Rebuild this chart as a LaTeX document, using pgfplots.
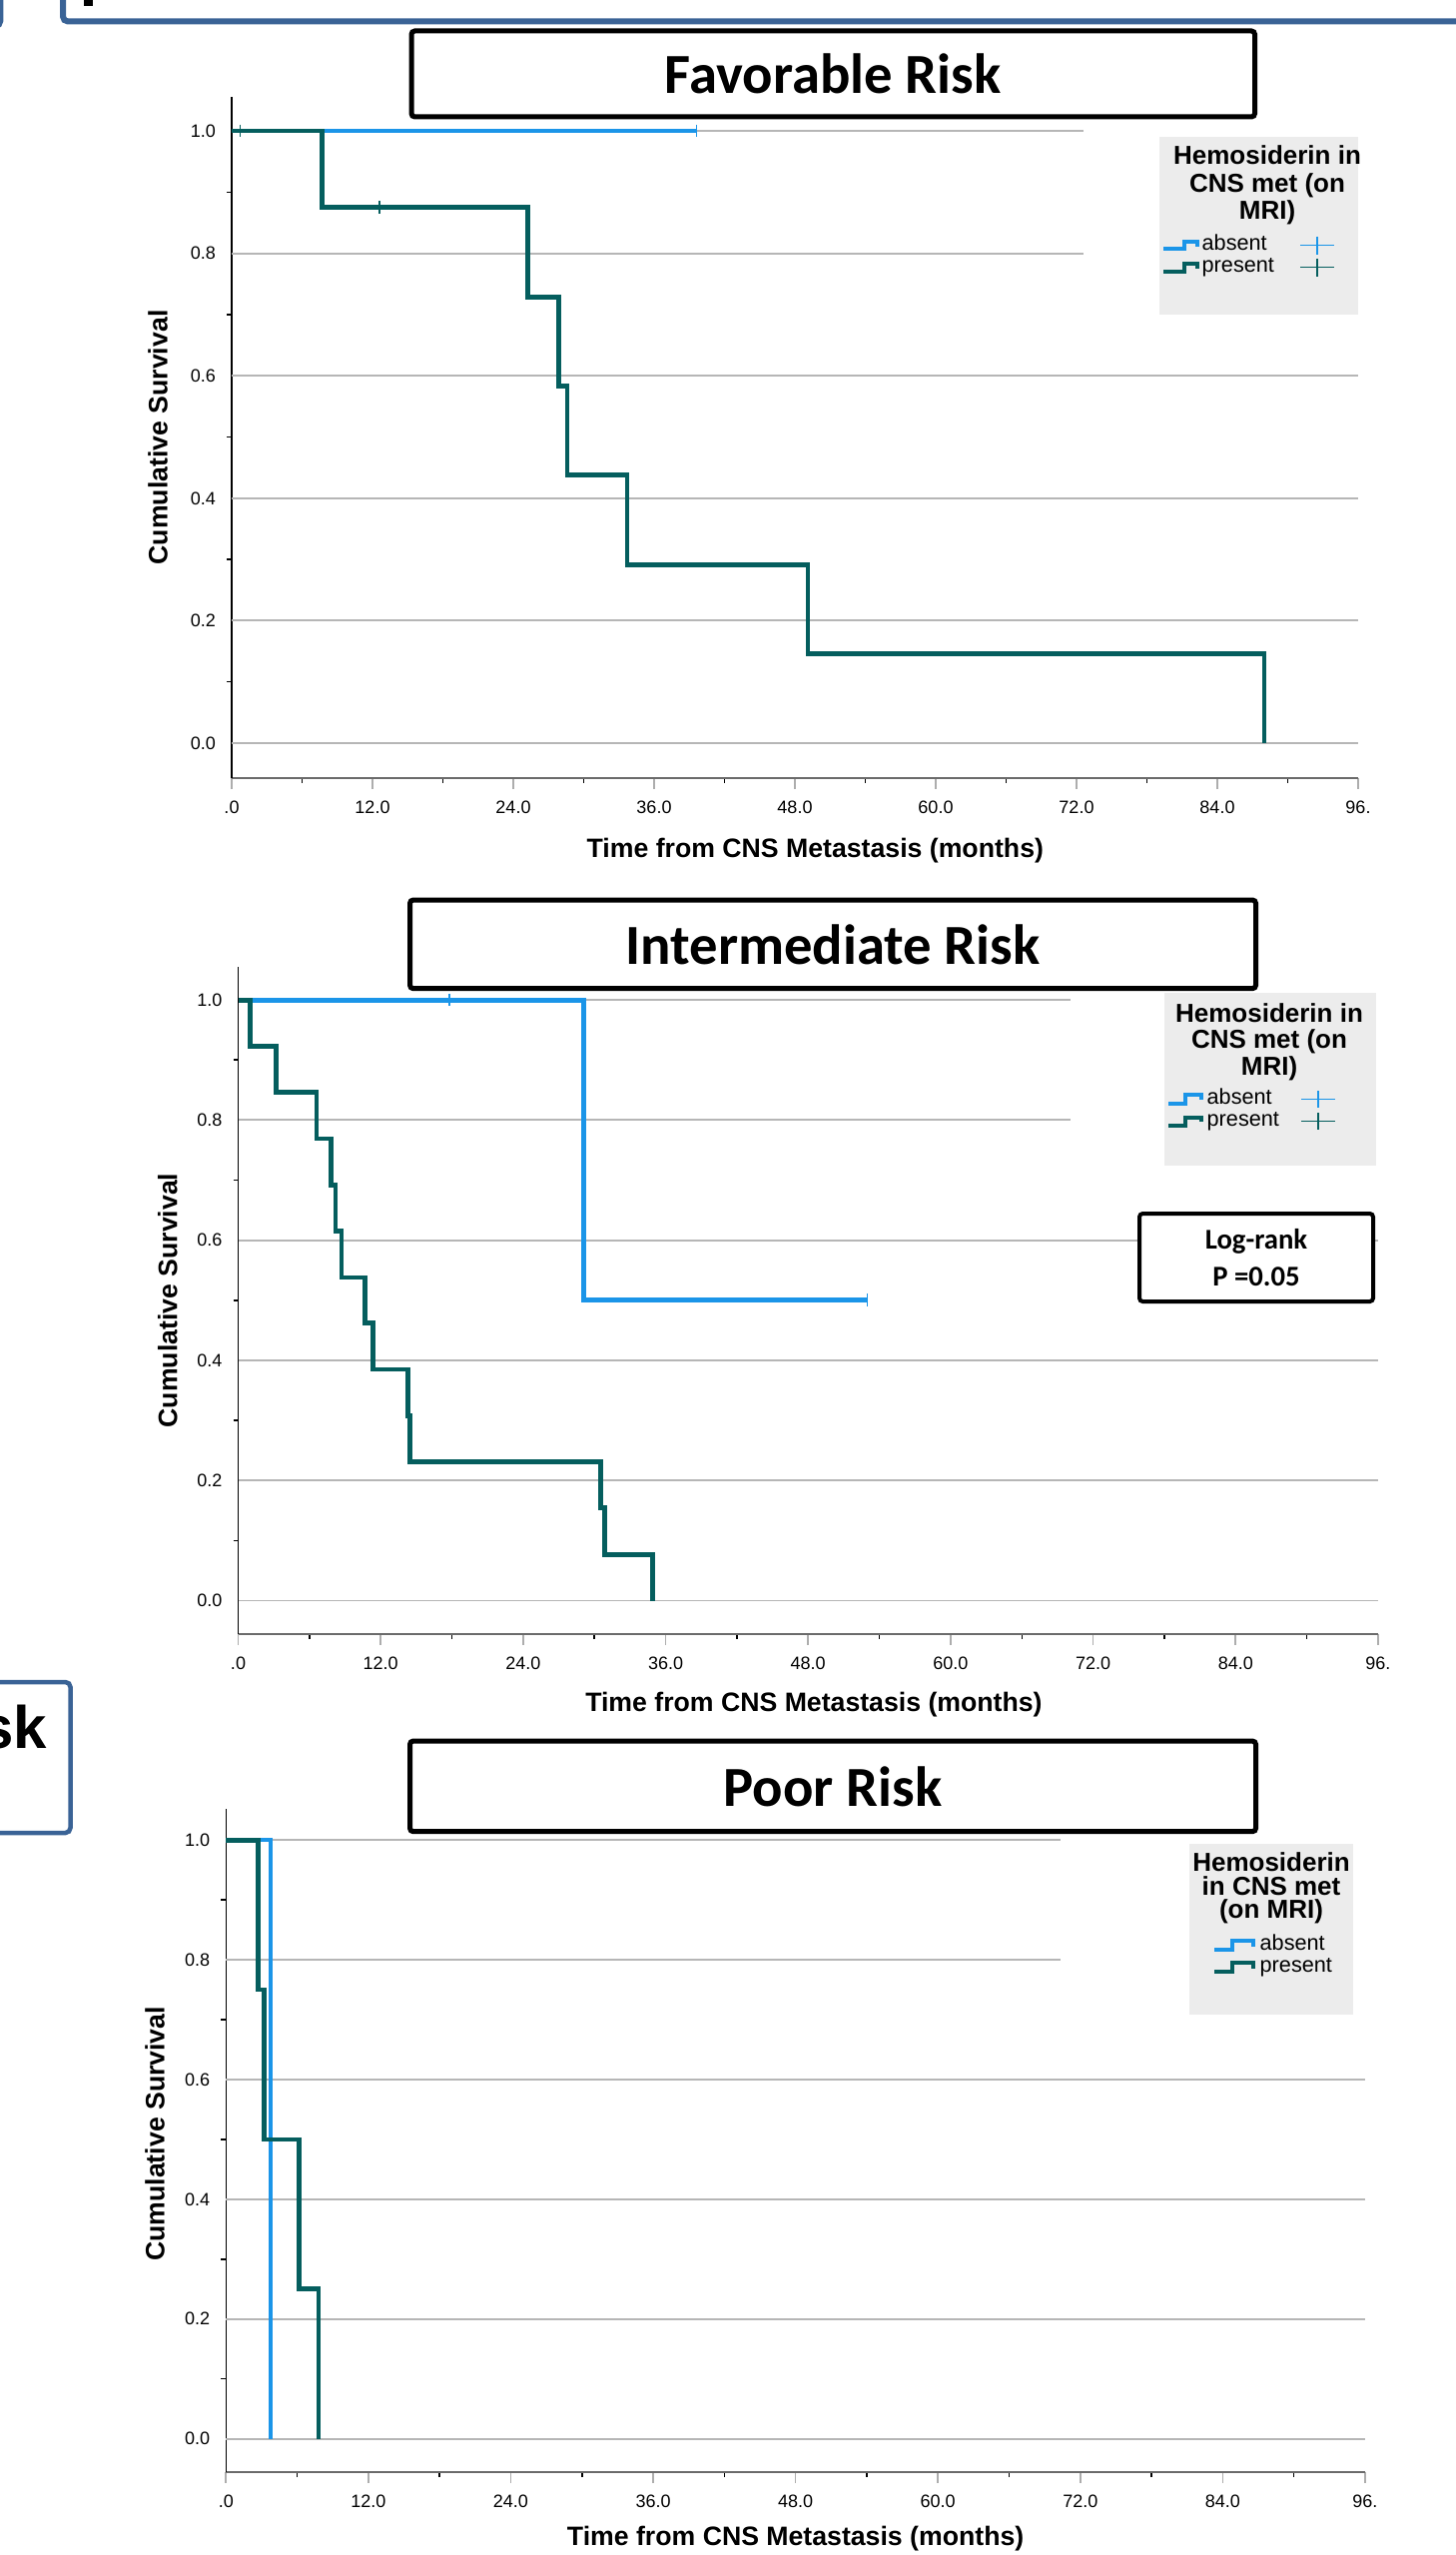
\documentclass[border=0pt]{standalone}
\usepackage{fontspec}
\setmainfont{Liberation Sans}
\newfontfamily\calib{Carlito}
\usepackage{pgfplots}
\pgfplotsset{compat=1.18}

\definecolor{kmblue}{RGB}{27,149,232}
\definecolor{kmteal}{RGB}{5,94,94}
\definecolor{frameblue}{RGB}{58,99,150}
\definecolor{legbg}{RGB}{236,236,236}
\definecolor{gridc}{RGB}{182,182,182}

\tikzset{gl/.style={gridc, line width=0.55pt}}
\pgfplotsset{
 km/.style={
  scale only axis,
  anchor=south west,
  xmin=0, xmax=96,
  axis x line*=bottom, axis y line*=left,
  axis line style={-},
  x axis line style={draw=black!58, line width=0.75pt},
  y axis line style={draw=black, line width=0.45pt},
  xtick={0,12,...,96},
  xticklabels={.0,12.0,24.0,36.0,48.0,60.0,72.0,84.0,96.},
  ytick={0,0.2,0.4,0.6,0.8,1.0},
  yticklabels={0.0,0.2,0.4,0.6,0.8,1.0},
  minor x tick num=1, minor y tick num=1,
  tick align=outside,
  major tick length=3.3pt, minor tick length=1.5pt,
  every major x tick/.append style={draw=black!32, line width=0.5pt},
  every minor tick/.append style={draw=black, line width=0.45pt},
  every major y tick/.append style={draw=none},
  tick label style={font=\fontsize{5.4pt}{6.4pt}\selectfont},
  yticklabel style={xshift=2pt},
  label style={font=\bfseries\fontsize{8pt}{9.6pt}\selectfont},
  xlabel={Time from CNS Metastasis (months)},
  ylabel={Cumulative Survival},
  clip=false,
 },
 surv/.style={const plot, line width=1.45pt, no marks, line join=miter},
 cens/.style={only marks, mark=|, mark size=1.9pt, mark options={line width=0.45pt}},
}

\begin{document}
\begin{tikzpicture}
\useasboundingbox (0,0) rectangle (437.1pt,-767.4pt);

% ---------------- Panel 1: Favorable Risk ----------------
\begin{axis}[km,
  at={(69.6pt,-233.7pt)}, width=338.4pt, height=204.6pt,
  ymin=-0.0571, ymax=1.0555,
  xlabel style={at={(axis description cs:0.518,-0.107)}, anchor=center},
  ylabel style={at={(axis description cs:-0.0656,0.5)}, anchor=center},
]
\draw[gl] (axis cs:0,0) -- (axis cs:96,0);
\draw[gl] (axis cs:0,0.2) -- (axis cs:96,0.2);
\draw[gl] (axis cs:0,0.4) -- (axis cs:96,0.4);
\draw[gl] (axis cs:0,0.6) -- (axis cs:96,0.6);
\draw[gl] (axis cs:0,0.8) -- (axis cs:72.6,0.8);
\draw[gl] (axis cs:0,1.0) -- (axis cs:72.6,1.0);
\addplot[surv, kmblue] coordinates {(0,1) (39.6,1)};
\addplot[surv, kmteal] coordinates {(0,1) (7.7,0.875) (25.2,0.729) (27.9,0.583) (28.6,0.4375) (33.7,0.2917) (49.1,0.1458) (88.0,0)};
\addplot[cens, kmblue] coordinates {(39.6,1)};
\addplot[cens, kmteal] coordinates {(0.74,1) (12.6,0.875)};
\end{axis}

% ---------------- Panel 2: Intermediate Risk ----------------
\begin{axis}[km,
  at={(71.55pt,-490.8pt)}, width=342.45pt, height=200.4pt,
  ymin=-0.0557, ymax=1.055,
  xlabel style={at={(axis description cs:0.505,-0.105)}, anchor=center},
  ylabel style={at={(axis description cs:-0.0618,0.5)}, anchor=center},
]
\draw[gl] (axis cs:0,0) -- (axis cs:96,0);
\draw[gl] (axis cs:0,0.2) -- (axis cs:96,0.2);
\draw[gl] (axis cs:0,0.4) -- (axis cs:96,0.4);
\draw[gl] (axis cs:0,0.6) -- (axis cs:96,0.6);
\draw[gl] (axis cs:0,0.8) -- (axis cs:70.1,0.8);
\draw[gl] (axis cs:0,1.0) -- (axis cs:70.1,1.0);
\addplot[surv, kmblue] coordinates {(0,1) (29.1,0.5) (53.0,0.5)};
\addplot[surv, kmteal] coordinates {(0,1) (1.0,0.923) (3.2,0.846) (6.6,0.769) (7.8,0.692) (8.2,0.615) (8.7,0.538) (10.7,0.462) (11.35,0.385) (14.3,0.308) (14.5,0.231) (30.5,0.154) (30.9,0.077) (34.9,0)};
\addplot[cens, kmblue] coordinates {(17.8,1) (53.0,0.5)};
\end{axis}

% ---------------- Panel 3: Poor Risk ----------------
\begin{axis}[km,
  at={(67.89pt,-742.5pt)}, width=342.2pt, height=199.2pt,
  ymin=-0.0557, ymax=1.052,
  xlabel style={at={(axis description cs:0.5,-0.101)}, anchor=center},
  ylabel style={at={(axis description cs:-0.0625,0.51)}, anchor=center},
]
\draw[gl] (axis cs:0,0) -- (axis cs:96,0);
\draw[gl] (axis cs:0,0.2) -- (axis cs:96,0.2);
\draw[gl] (axis cs:0,0.4) -- (axis cs:96,0.4);
\draw[gl] (axis cs:0,0.6) -- (axis cs:96,0.6);
\draw[gl] (axis cs:0,0.8) -- (axis cs:70.3,0.8);
\draw[gl] (axis cs:0,1.0) -- (axis cs:70.3,1.0);
\addplot[surv, kmblue, line width=1.1pt] coordinates {(0,1) (3.76,0)};
\addplot[surv, kmteal] coordinates {(0,1) (2.73,0.75) (3.2,0.5) (6.15,0.25) (7.8,0)};
\end{axis}

% ---------------- decorations (pixel coordinates) ----------------
\begin{scope}[x=0.3pt,y=-0.3pt]
% fragments of neighbouring boxes
\draw[frameblue, line width=1.8pt, rounded corners=1.5pt] (63,-60) -- (63,21.5) -- (1520,21.5);
\draw[frameblue, line width=1.8pt, rounded corners=1.5pt] (0.3,-60) -- (0.3,26) -- (-60,26);
\fill[black] (84,-5) rectangle (93,6);
\draw[frameblue, line width=1.35pt, rounded corners=1.5pt] (-60,1684) -- (70.5,1684) -- (70.5,1835) -- (-60,1835);
\node[anchor=base east, inner sep=0pt, font=\bfseries\fontsize{18pt}{20pt}\selectfont] at (48,1750) {Risk};

% title boxes
\draw[black, line width=1.5pt, fill=white, rounded corners=1pt] (412,31) rectangle (1256.5,117);
\node[font=\calib\bfseries\fontsize{17pt}{20pt}\selectfont] at (834,74) {Favorable Risk};
\draw[black, line width=1.5pt, fill=white, rounded corners=1pt] (410.5,901) rectangle (1257.5,989.7);
\node[font=\calib\bfseries\fontsize{17pt}{20pt}\selectfont] at (834,946) {Intermediate Risk};
\draw[black, line width=1.5pt, fill=white, rounded corners=1pt] (410.5,1743) rectangle (1257.5,1833.7);
\node[font=\calib\bfseries\fontsize{17pt}{20pt}\selectfont] at (834,1789) {Poor Risk};

% log-rank box
\draw[black, line width=1.2pt, fill=white, rounded corners=1pt] (1141,1215) rectangle (1375,1303);
\node[font=\calib\bfseries\fontsize{8.6pt}{10pt}\selectfont] at (1258,1243) {Log-rank};
\node[font=\calib\bfseries\fontsize{8.6pt}{10pt}\selectfont] at (1258,1278) {P =0.05};

% legend 1
\fill[legbg] (1161,137) rectangle (1360,315);
\begin{scope}[every node/.style={inner sep=0pt, font=\bfseries\fontsize{7.8pt}{8pt}\selectfont}]
\node[anchor=base] at (1269,165) {Hemosiderin in};
\node[anchor=base] at (1269,192.3) {CNS met (on};
\node[anchor=base] at (1269,220) {MRI)};
\end{scope}
\begin{scope}[every node/.style={inner sep=0pt, anchor=base west, font=\fontsize{6.5pt}{7pt}\selectfont}]
\node at (1203,250.7) {absent};
\node at (1203,272.7) {present};
\end{scope}
\draw[kmblue, line width=1.2pt] (1165,249) -- (1186,249) -- (1186,242) -- (1198.5,242) -- (1198.5,247);
\draw[kmteal, line width=1.2pt] (1165,272) -- (1186,272) -- (1186,264) -- (1198.5,264) -- (1198.5,269);
\draw[kmblue, line width=0.4pt] (1302,245.7) -- (1336,245.7) (1319,236.7) -- (1319,254.7);
\draw[kmteal, line width=0.4pt] (1302,267.7) -- (1336,267.7) (1319,258.7) -- (1319,276.7);

% legend 2
\fill[legbg] (1166,994) rectangle (1378,1167);
\begin{scope}[every node/.style={inner sep=0pt, font=\bfseries\fontsize{7.8pt}{8pt}\selectfont}]
\node[anchor=base] at (1271,1023.3) {Hemosiderin in};
\node[anchor=base] at (1271,1049) {CNS met (on};
\node[anchor=base] at (1271,1076) {MRI)};
\end{scope}
\begin{scope}[every node/.style={inner sep=0pt, anchor=base west, font=\fontsize{6.5pt}{7pt}\selectfont}]
\node at (1208,1105.7) {absent};
\node at (1208,1127) {present};
\end{scope}
\draw[kmblue, line width=1.2pt] (1170,1105) -- (1187,1105) -- (1187,1096) -- (1203,1096) -- (1203,1101);
\draw[kmteal, line width=1.2pt] (1170,1126.7) -- (1187,1126.7) -- (1187,1118.7) -- (1203,1118.7) -- (1203,1123);
\draw[kmblue, line width=0.4pt] (1303,1100.7) -- (1337,1100.7) (1320,1092) -- (1320,1109.4);
\draw[kmteal, line width=0.4pt] (1303,1122.7) -- (1337,1122.7) (1320,1114) -- (1320,1131.4);

% legend 3
\fill[legbg] (1191,1846) rectangle (1355,2017);
\begin{scope}[every node/.style={inner sep=0pt, font=\bfseries\fontsize{7.8pt}{8pt}\selectfont}]
\node[anchor=base] at (1273,1873) {Hemosiderin};
\node[anchor=base] at (1273,1897.7) {in CNS met};
\node[anchor=base] at (1273,1920.5) {(on MRI)};
\end{scope}
\begin{scope}[every node/.style={inner sep=0pt, anchor=base west, font=\fontsize{6.5pt}{7pt}\selectfont}]
\node at (1261,1952.7) {absent};
\node at (1261,1974.3) {present};
\end{scope}
\draw[kmblue, line width=1.2pt] (1216,1952) -- (1234,1952) -- (1234,1942.7) -- (1255,1942.7) -- (1255,1949);
\draw[kmteal, line width=1.2pt] (1216,1974) -- (1234,1974) -- (1234,1964.7) -- (1255,1964.7) -- (1255,1971);
\end{scope}
\end{tikzpicture}
\end{document}
